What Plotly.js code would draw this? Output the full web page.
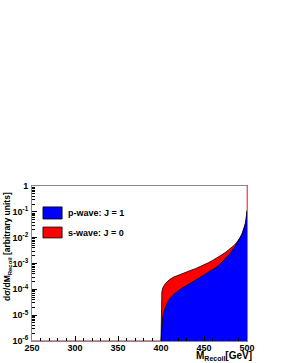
<!DOCTYPE html>
<html><head><meta charset="utf-8">
<script src="https://cdn.plot.ly/plotly-3.0.1.min.js"></script>
<style>html,body{margin:0;padding:0;background:#fff;}#plot{width:281px;height:363px;}</style>
</head><body><div id="plot"></div>
<script>
// Recoil mass (GeV)
const mRecoil = [400, 400.5, 401, 402, 403, 405, 408, 410, 415, 420, 425, 430, 435, 440, 445, 450, 455, 460, 465, 470, 475, 480, 485, 488, 490, 492, 494, 496, 497, 498, 499, 499.5, 500];
// s-wave: J = 0
const sWave = [1e-6, 5.0e-5, 7.9e-5, 1.12e-4, 1.32e-4, 1.66e-4, 2.09e-4, 2.4e-4, 3.0e-4, 3.55e-4, 4.17e-4, 4.8e-4, 5.5e-4, 6.3e-4, 7.4e-4, 8.9e-4, 1.07e-3, 1.32e-3, 1.62e-3, 2.09e-3, 2.7e-3, 3.55e-3, 5.0e-3, 6.5e-3, 7.9e-3, 1.0e-2, 1.35e-2, 2.0e-2, 2.5e-2, 3.4e-2, 5.2e-2, 7.6e-2, 0.112];
// p-wave: J = 1
const pWave = [1e-6, 2.0e-6, 4.0e-6, 7.9e-6, 1.2e-5, 2.0e-5, 3.3e-5, 4.2e-5, 6.6e-5, 8.9e-5, 1.15e-4, 1.41e-4, 1.78e-4, 2.2e-4, 2.7e-4, 3.4e-4, 4.3e-4, 5.5e-4, 7.4e-4, 1.05e-3, 1.58e-3, 2.4e-3, 4.0e-3, 5.8e-3, 7.6e-3, 9.8e-3, 1.32e-2, 1.95e-2, 2.5e-2, 3.4e-2, 5.2e-2, 7.6e-2, 0.112];
// histogram floor below threshold and edge
const floorM = [250, 400];
const floorV = [1e-6, 1e-6];
const edgeM = [500, 500];
const edgeV = [0.112, 1];

const xTicks = [250, 300, 350, 400, 450, 500];
const yTickVals = [1e-6, 1e-5, 1e-4, 1e-3, 1e-2, 1e-1, 1];
const yTickText = ['10<sup>-6</sup>', '10<sup>-5</sup>', '10<sup>-4</sup>', '10<sup>-3</sup>', '10<sup>-2</sup>', '10<sup>-1</sup>', '1'];
const legendLabels = ['p-wave: J = 1', 's-wave: J = 0'];

const F = 'Liberation Sans, Arial, sans-serif';

const traces = [
  {x: mRecoil, y: sWave, type: 'scatter', mode: 'lines', fill: 'tozeroy', fillcolor: '#ff0000',
   line: {color: '#000000', width: 0.8}, hoverinfo: 'skip', showlegend: false},
  {x: mRecoil, y: pWave, type: 'scatter', mode: 'lines', fill: 'tozeroy', fillcolor: '#0000ff',
   line: {color: '#000000', width: 0.8}, hoverinfo: 'skip', showlegend: false},
  {x: floorM, y: floorV, type: 'scatter', mode: 'lines', line: {color: '#aa2222', width: 1.2}, hoverinfo: 'skip', showlegend: false, cliponaxis: false},
  {x: edgeM, y: edgeV, type: 'scatter', mode: 'lines', line: {color: '#ff6666', width: 1}, hoverinfo: 'skip', showlegend: false, cliponaxis: false}
];

const layout = {
  width: 281, height: 363,
  margin: {l: 32, r: 34, t: 186, b: 22, pad: 0},
  paper_bgcolor: '#fff', plot_bgcolor: '#fff',
  showlegend: false,
  font: {family: F, size: 9, color: '#000'},
  xaxis: {
    range: [250, 500], tickvals: xTicks, ticktext: xTicks.map(String),
    ticks: 'inside', ticklen: 5, tickcolor: '#000', tickwidth: 1,
    minor: {ticks: 'inside', ticklen: 3, dtick: 10, tickcolor: '#000'},
    showline: true, linecolor: '#888', linewidth: 1, mirror: true,
    showgrid: false, zeroline: false, ticklabelstandoff: -2,
    tickfont: {family: F, size: 9, color: '#000', weight: 'bold'}
  },
  yaxis: {
    type: 'log', range: [-6, 0],
    tickvals: yTickVals, ticktext: yTickText,
    ticks: 'inside', ticklen: 5, tickcolor: '#000',
    minor: {ticks: 'inside', ticklen: 3, tickcolor: '#000', dtick: 'D1'},
    showline: true, linecolor: '#888', linewidth: 1, mirror: true,
    showgrid: false, zeroline: false, ticklabelstandoff: 1,
    tickfont: {family: F, size: 9, color: '#000', weight: 'bold'}
  },
  shapes: [
    {type: 'rect', xref: 'paper', yref: 'paper', x0: 0.051, x1: 0.14, y0: 0.787, y1: 0.865, fillcolor: '#0000ff', line: {color: '#000', width: 0.8}},
    {type: 'rect', xref: 'paper', yref: 'paper', x0: 0.051, x1: 0.14, y0: 0.665, y1: 0.735, fillcolor: '#ff0000', line: {color: '#000', width: 0.8}}
  ],
  annotations: [
    {xref: 'paper', yref: 'paper', x: 0.158, y: 0.826, xanchor: 'left', yanchor: 'middle', showarrow: false,
     text: legendLabels[0], font: {family: F, size: 9, color: '#000', weight: 'bold'}},
    {xref: 'paper', yref: 'paper', x: 0.158, y: 0.7, xanchor: 'left', yanchor: 'middle', showarrow: false,
     text: legendLabels[1], font: {family: F, size: 9, color: '#000', weight: 'bold'}},
    {xref: 'paper', yref: 'paper', x: -0.112, y: 0.613, xanchor: 'center', yanchor: 'middle', showarrow: false, textangle: -90,
     text: 'dσ/dM<sub>Recoil</sub> [arbitrary units]', font: {family: F, size: 8.5, color: '#000', weight: 'bold'}},
    {xref: 'paper', yref: 'paper', x: 1.033, y: -0.098, xanchor: 'right', yanchor: 'middle', showarrow: false,
     text: 'M<sub>Recoil</sub>[GeV]', font: {family: F, size: 10, color: '#000', weight: 'bold'}}
  ]
};

Plotly.newPlot('plot', traces, layout, {staticPlot: true, displayModeBar: false});
</script>
</body></html>
